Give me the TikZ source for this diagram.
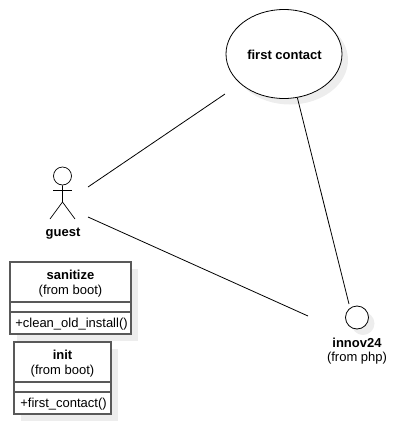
\documentclass[tikz,border=0pt]{standalone}
\usepackage{fontspec}
\setmainfont{Liberation Sans}
\usetikzlibrary{shapes.geometric, shadows, positioning}

\tikzset{
  umlshadow/.style={drop shadow={shadow xshift=7pt, shadow yshift=-7pt, fill=black!7, opacity=1}},
  classbox/.style={draw=black!65, line width=1.2pt, fill=white, rectangle, inner sep=0pt, umlshadow},
  classline/.style={draw=black!65, line width=1.2pt},
  bold label/.style={font=\fontsize{13}{15}\selectfont\bfseries, inner sep=0pt},
  plain label/.style={font=\fontsize{13}{15}\selectfont, inner sep=0pt},
  assoc/.style={draw=black, line width=0.8pt}
}

\begin{document}
\begin{tikzpicture}[x=1pt, y=-1pt]

            \useasboundingbox (0,0) rectangle (414,424);

            % Use case
            \node[draw, ellipse, fill=white, line width=0.8pt, inner sep=0pt, minimum width=116pt, minimum height=89pt,
                  drop shadow={shadow xshift=6pt, shadow yshift=-6pt, fill=black!7, opacity=1}] (contact) at (284,54) {};
            \node[bold label] (contacttext) at (284.5,54.5) {first contact};

            % Actor
            \node[draw, circle, line width=0.7pt, inner sep=0pt, minimum size=18pt] (head) at (62.5,176) {};
            \coordinate (armleft) at (53,190.5);
            \coordinate (armright) at (72,190.5);
            \coordinate (hip) at (62.5,202);
            \coordinate (footleft) at (50,219);
            \coordinate (footright) at (75,219);
            \draw[line width=0.7pt] (head) -- (hip) -- (footleft);
            \draw[line width=0.7pt] (hip) -- (footright);
            \draw[line width=0.7pt] (armleft) -- (armright);
            \node[bold label] (guest) at (63,234) {guest};

            % Interface
            \node[draw, circle, fill=white, line width=0.8pt, inner sep=0pt, minimum size=23pt,
                  drop shadow={shadow xshift=6pt, shadow yshift=-6pt, fill=black!7, opacity=1}] (innov) at (357,317.5) {};
            \node[bold label] (innovtext) at (357,342.5) {innov24};
            \node[plain label] (innovfrom) at (357,358) {(from php)};

            % Classes
            \node[classbox, minimum width=121pt, minimum height=72pt] (sanitize) at (70.5,298) {};
            \node[bold label] (sanitizetext) at (70.5,275) {sanitize};
            \node[plain label] (sanitizefrom) at (70.5,291) {(from boot)};
            \coordinate (sanitizeA) at (10,302);
            \coordinate (sanitizeB) at (131,302);
            \coordinate (sanitizeC) at (10,312);
            \coordinate (sanitizeD) at (131,312);
            \draw[classline] (sanitizeA) -- (sanitizeB);
            \draw[classline] (sanitizeC) -- (sanitizeD);
            \node[plain label] (sanitizeop) at (71.5,324.5) {+clean\_old\_install()};

            \node[classbox, minimum width=97pt, minimum height=72pt] (init) at (62.5,378) {};
            \node[bold label] (inittext) at (62.5,355) {init};
            \node[plain label] (initfrom) at (62.5,371) {(from boot)};
            \coordinate (initA) at (14,382);
            \coordinate (initB) at (111,382);
            \coordinate (initC) at (14,392);
            \coordinate (initD) at (111,392);
            \draw[classline] (initA) -- (initB);
            \draw[classline] (initC) -- (initD);
            \node[plain label] (initop) at (63.5,404) {+first\_contact()};

            % Connections: guest to use case and interface
            \coordinate (guestup) at (88,187);
            \coordinate (guestdown) at (88,217);
            \coordinate (contactend) at (225,94);
            \coordinate (innovend) at (308,316);
            \coordinate (innovtop) at (349,304);
            \draw[assoc] (guestup) -- (contactend);
            \draw[assoc] (guestdown) -- (innovend);
            \draw[assoc] (contact.-73) -- (innovtop);

        \end{tikzpicture}
\end{document}
